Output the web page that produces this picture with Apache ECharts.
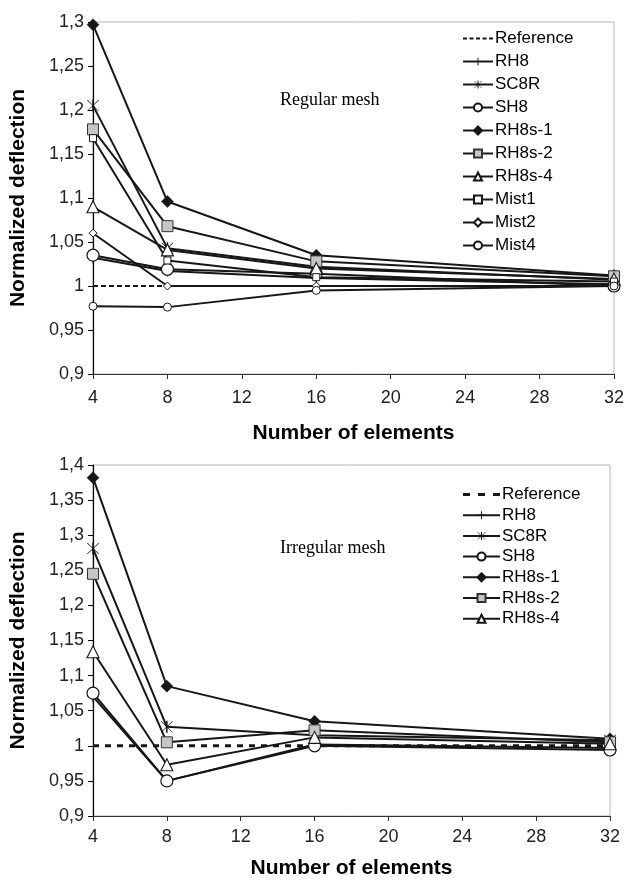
<!DOCTYPE html>
<html>
<head>
<meta charset="utf-8">
<script src="https://cdn.jsdelivr.net/npm/echarts@6/dist/echarts.min.js"></script>
<style>
  html, body { margin: 0; padding: 0; background: #fff; }
  #chart { width: 627px; height: 881px; }
</style>
</head>
<body>
<div id="chart"></div>
<script>
// number of elements
const elements = [4, 8, 16, 32];

// regular mesh (top)
const regReference = [1, 1, 1, 1];
const regRH8 = [1.032, 1.017, 1.009, 1.002];
const regSC8R = [1.205, 1.043, 1.022, 1.007];
const regSH8 = [1.035, 1.019, 1.014, 1.0];
const regRH8s1 = [1.297, 1.096, 1.035, 1.012];
const regRH8s2 = [1.178, 1.068, 1.028, 1.011];
const regRH8s4 = [1.09, 1.041, 1.02, 1.008];
const regMist1 = [1.168, 1.029, 1.01, 1.005];
const regMist2 = [1.06, 1.0, 1.0, 1.0];
const regMist4 = [0.977, 0.976, 0.995, 1.0];

// irregular mesh (bottom)
const irrReference = [1, 1, 1, 1];
const irrRH8 = [1.07, 0.95, 1.002, 0.997];
const irrSC8R = [1.281, 1.027, 1.015, 1.008];
const irrSH8 = [1.075, 0.95, 1.0, 0.994];
const irrRH8s1 = [1.382, 1.085, 1.035, 1.01];
const irrRH8s2 = [1.245, 1.005, 1.022, 1.005];
const irrRH8s4 = [1.134, 0.973, 1.012, 1.003];

const FONT = "Liberation Sans";
const INK = "#161616";

// marker shapes
const plusPath = "path://M4.4,0h1.2v10h-1.2z M0,4.4h10v1.2h-10z";
const starPath = "path://M4.4,0h1.2v10h-1.2z M0.6,0.2L9.8,9.4L9.4,9.8L0.2,0.6z M9.4,0.2L9.8,0.6L0.6,9.8L0.2,9.4z";
// legend icons for the reference line
const dashIconTop = "path://M0,0h4v2h-4z M6.5,0h4v2h-4z M13,0h4v2h-4z M19.5,0h4v2h-4z M26,0h4v2h-4z";
const dashIconBot = "path://M0,0h7v3h-7z M15,0h7v3h-7z M30,0h7v3h-7z";

const pairs = (vals) => vals.map((v, i) => [elements[i], v]);

const markers = {
  "Reference": { symbol: "none" },
  "RH8": { symbol: plusPath, symbolSize: 11, color: INK, border: INK, bw: 0 },
  "SC8R": { symbol: starPath, symbolSize: 12, color: INK, border: INK, bw: 0 },
  "SH8": { symbol: "circle", symbolSize: 12, color: "#fff", border: INK, bw: 1.2 },
  "RH8s-1": { symbol: "diamond", symbolSize: 12, color: INK, border: INK, bw: 0.5 },
  "RH8s-2": { symbol: "rect", symbolSize: 11, color: "#c6c6c6", border: "#333", bw: 1 },
  "RH8s-4": { symbol: "triangle", symbolSize: 12, color: "#fff", border: INK, bw: 1.1 },
  "Mist1": { symbol: "rect", symbolSize: 7, color: "#fff", border: INK, bw: 1 },
  "Mist2": { symbol: "diamond", symbolSize: 8, color: "#fff", border: INK, bw: 1 },
  "Mist4": { symbol: "circle", symbolSize: 8, color: "#fff", border: INK, bw: 1 }
};

const makeSeries = (name, vals, idx, refDash) => {
  const m = markers[name];
  const s = {
    name: name,
    type: "line",
    xAxisIndex: idx,
    yAxisIndex: idx,
    data: pairs(vals),
    symbol: m.symbol,
    symbolSize: m.symbolSize,
    showAllSymbol: true,
    z: name === "Reference" ? 1 : 3,
    lineStyle: { color: INK, width: 2 },
    itemStyle: { color: m.color || INK, borderColor: m.border || INK, borderWidth: m.bw || 0 },
    emphasis: { disabled: true },
    animation: false
  };
  if (name === "Reference") {
    s.lineStyle = refDash;
    s.itemStyle = { color: INK };
  }
  return s;
};

const fmtComma = (v) => String(+v.toFixed(2)).replace(".", ",");

const yAxisBase = (idx, min, max) => ({
  gridIndex: idx,
  type: "value",
  min: min,
  max: max,
  interval: 0.05,
  name: "Normalized deflection",
  nameLocation: "middle",
  nameGap: 64,
  nameTextStyle: { fontFamily: FONT, fontSize: 21, fontWeight: "bold", color: "#000" },
  axisLine: { show: true, lineStyle: { color: "#000", width: 1.2 } },
  axisTick: { show: true, length: 5, lineStyle: { color: "#000" } },
  axisLabel: { fontFamily: FONT, fontSize: 18, color: "#222", margin: 9, formatter: fmtComma },
  splitLine: { show: false }
});

const xAxisBase = (idx, gap, margin) => ({
  gridIndex: idx,
  type: "value",
  min: 4,
  max: 32,
  interval: 4,
  name: "Number of elements",
  nameLocation: "middle",
  nameGap: gap,
  nameTextStyle: { fontFamily: FONT, fontSize: 21, fontWeight: "bold", color: "#000" },
  axisLine: { show: true, onZero: false, lineStyle: { color: "#333", width: 1.2 } },
  axisTick: { show: true, length: 5, lineStyle: { color: "#333" } },
  axisLabel: { fontFamily: FONT, fontSize: 18, color: "#222", margin: margin },
  splitLine: { show: false }
});

const topNames = ["Reference", "RH8", "SC8R", "SH8", "RH8s-1", "RH8s-2", "RH8s-4", "Mist1", "Mist2", "Mist4"];
const botNames = ["Reference", "RH8", "SC8R", "SH8", "RH8s-1", "RH8s-2", "RH8s-4"];
const topVals = [regReference, regRH8, regSC8R, regSH8, regRH8s1, regRH8s2, regRH8s4, regMist1, regMist2, regMist4];
const botVals = [irrReference, irrRH8, irrSC8R, irrSH8, irrRH8s1, irrRH8s2, irrRH8s4];

const series = [];
topNames.forEach((n, i) => series.push(makeSeries(n, topVals[i], 0, { color: INK, width: 2, type: [5, 3] })));
botNames.forEach((n, i) => {
  const s = makeSeries(n, botVals[i], 1, { color: INK, width: 3, type: [6, 6] });
  s.name = n + " ";
  series.push(s);
});

const legendBase = {
  orient: "vertical",
  textStyle: { fontFamily: FONT, fontSize: 17, color: "#000", padding: [0, 0, 0, -3] },
  itemHeight: 10,
  symbolKeepAspect: true,
  selectedMode: false
};

const legendData = (names, suffix, dashIcon) => names.map(n =>
  n === "Reference" ? { name: n + suffix, icon: dashIcon } : { name: n + suffix });

const chart = echarts.init(document.getElementById("chart"), null, { renderer: "canvas" });
chart.setOption({
  backgroundColor: "#fff",
  animation: false,
  grid: [
    { left: 91, right: 11, top: 22, height: 352, show: true, borderColor: "#b4b4b4", borderWidth: 1 },
    { left: 91, right: 17, top: 465, height: 351, show: true, borderColor: "#b4b4b4", borderWidth: 1 }
  ],
  xAxis: [xAxisBase(0, 49, 15), xAxisBase(1, 42, 12)],
  yAxis: [yAxisBase(0, 0.9, 1.3), yAxisBase(1, 0.9, 1.4)],
  legend: [
    Object.assign({}, legendBase, {
      data: legendData(topNames, "", dashIconTop), left: 457, top: 25, itemWidth: 30, itemGap: 6
    }),
    Object.assign({}, legendBase, {
      data: legendData(botNames, " ", dashIconBot), left: 457, top: 481, itemWidth: 37, itemGap: 3.7
    })
  ],
  graphic: [
    { type: "text", left: 280, top: 91, style: { text: "Regular mesh", font: "18px 'Liberation Serif'", fill: "#000" } },
    { type: "text", left: 280, top: 539, style: { text: "Irregular mesh", font: "18px 'Liberation Serif'", fill: "#000" } }
  ],
  series: series
});
</script>
</body>
</html>
